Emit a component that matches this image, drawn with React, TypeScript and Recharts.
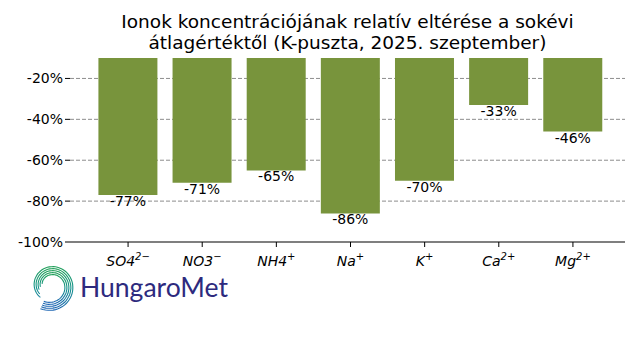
import { BarChart, Bar, XAxis, YAxis, CartesianGrid, LabelList } from "recharts";

const ions = ["SO4", "NO3", "NH4", "Na", "K", "Ca", "Mg"];
const charges = ["2−", "−", "+", "+", "+", "2+", "2+"];
const deviation = [-77, -71, -65, -86, -70, -33, -46];
const yTicks = [-100, -80, -60, -40, -20];
const gridValues = [-80, -60, -40, -20];

const data = ions.map((ion, i) => ({ ion, charge: charges[i], value: deviation[i] }));

const FONT = "DejaVu Sans, sans-serif";

const IonTick = (props: any) => {
  const { x, y, payload } = props;
  const charge = charges[payload.index];
  return (
    <text x={x} y={y + 17} textAnchor="middle" fontFamily={FONT} fontStyle="italic" fontSize={14} fill="#000">
      <tspan>{payload.value}</tspan>
      <tspan fontSize={10} dy={-6}>{charge}</tspan>
    </text>
  );
};

const ValueLabel = (props: any) => {
  const { x, y, width, height, value } = props;
  const bottom = Math.max(y, y + height);
  return (
    <text x={x + width / 2} y={bottom + 11} textAnchor="middle" fontFamily={FONT} fontSize={14} fill="#000">
      {`${value}%`}
    </text>
  );
};

// spiral logo strands
const spiralPath = (offset: number, endDeg: number) => {
  const cx = 51;
  const cy = 286;
  const start = 115;
  const pts: string[] = [];
  for (let a = start; a >= endDeg; a -= 6) {
    const t = (start - a) / 360;
    const r = 25 - offset - t * 10;
    const rad = (a * Math.PI) / 180;
    pts.push(`${(cx + r * Math.cos(rad)).toFixed(1)},${(cy + r * Math.sin(rad)).toFixed(1)}`);
  }
  return "M " + pts.join(" L ");
};

const Logo = () => {
  const strands = [0, 2, 4, 6, 8];
  return (
    <svg width={210} height={60} style={{ position: "absolute", left: 25, top: 258 }} viewBox="25 258 210 60">
      <defs>
        <linearGradient id="lg" x1="0" y1="0" x2="0" y2="1">
          <stop offset="0%" stopColor="#22a05a" />
          <stop offset="50%" stopColor="#13928c" />
          <stop offset="100%" stopColor="#2168b4" />
        </linearGradient>
      </defs>
      <g stroke="url(#lg)" fill="none" strokeWidth={1.1}>
        {strands.map((o, i) => (
          <path key={i} d={spiralPath(o, -230 + i * 15)} />
        ))}
      </g>
      <text
        x={80}
        y={297}
        fontFamily="Lato, Roboto, sans-serif"
        fontSize={26}
        fill="#2d2a7e"
        textLength={148}
        lengthAdjust="spacingAndGlyphs"
      >
        HungaroMet
      </text>
    </svg>
  );
};

export default function App() {
  return (
    <div style={{ position: "relative", width: 640, height: 360, margin: -8, background: "#fff" }}>
      <div
        style={{
          position: "absolute",
          left: 50,
          width: 595,
          top: 11,
          textAlign: "center",
          fontFamily: FONT,
          fontSize: 18.5,
          lineHeight: "21px",
          color: "#000",
        }}
      >
        Ionok koncentrációjának relatív eltérése a sokévi
        <br />
        átlagértéktől (K-puszta, 2025. szeptember)
      </div>
      <div style={{ position: "absolute", left: 0, top: 0 }}>
        <BarChart
          width={640}
          height={360}
          data={data}
          margin={{ top: 58, right: 15, bottom: 0, left: 0 }}
          barCategoryGap="10%"
        >
          <CartesianGrid
            vertical={false}
            horizontalValues={gridValues}
            stroke="#808080"
            strokeDasharray="4 2"
            strokeWidth={0.9}
          />
          <XAxis
            dataKey="ion"
            height={118}
            padding={{ left: 21, right: 15 }}
            tick={<IonTick />}
            tickLine={{ stroke: "#000" }}
            tickSize={5}
            axisLine={{ stroke: "#000", strokeWidth: 1.2 }}
            interval={0}
          />
          <YAxis
            width={70}
            domain={[-100, -10]}
            ticks={yTicks}
            allowDataOverflow
            axisLine={false}
            tickLine={{ stroke: "#000" }}
            tickSize={5}
            tickFormatter={(v: number) => `${v}%`}
            tick={{ fontFamily: FONT, fontSize: 14, fill: "#000" }}
          />
          <Bar dataKey="value" fill="#78943c" isAnimationActive={false}>
            <LabelList dataKey="value" content={<ValueLabel />} />
          </Bar>
        </BarChart>
      </div>
      <Logo />
    </div>
  );
}
